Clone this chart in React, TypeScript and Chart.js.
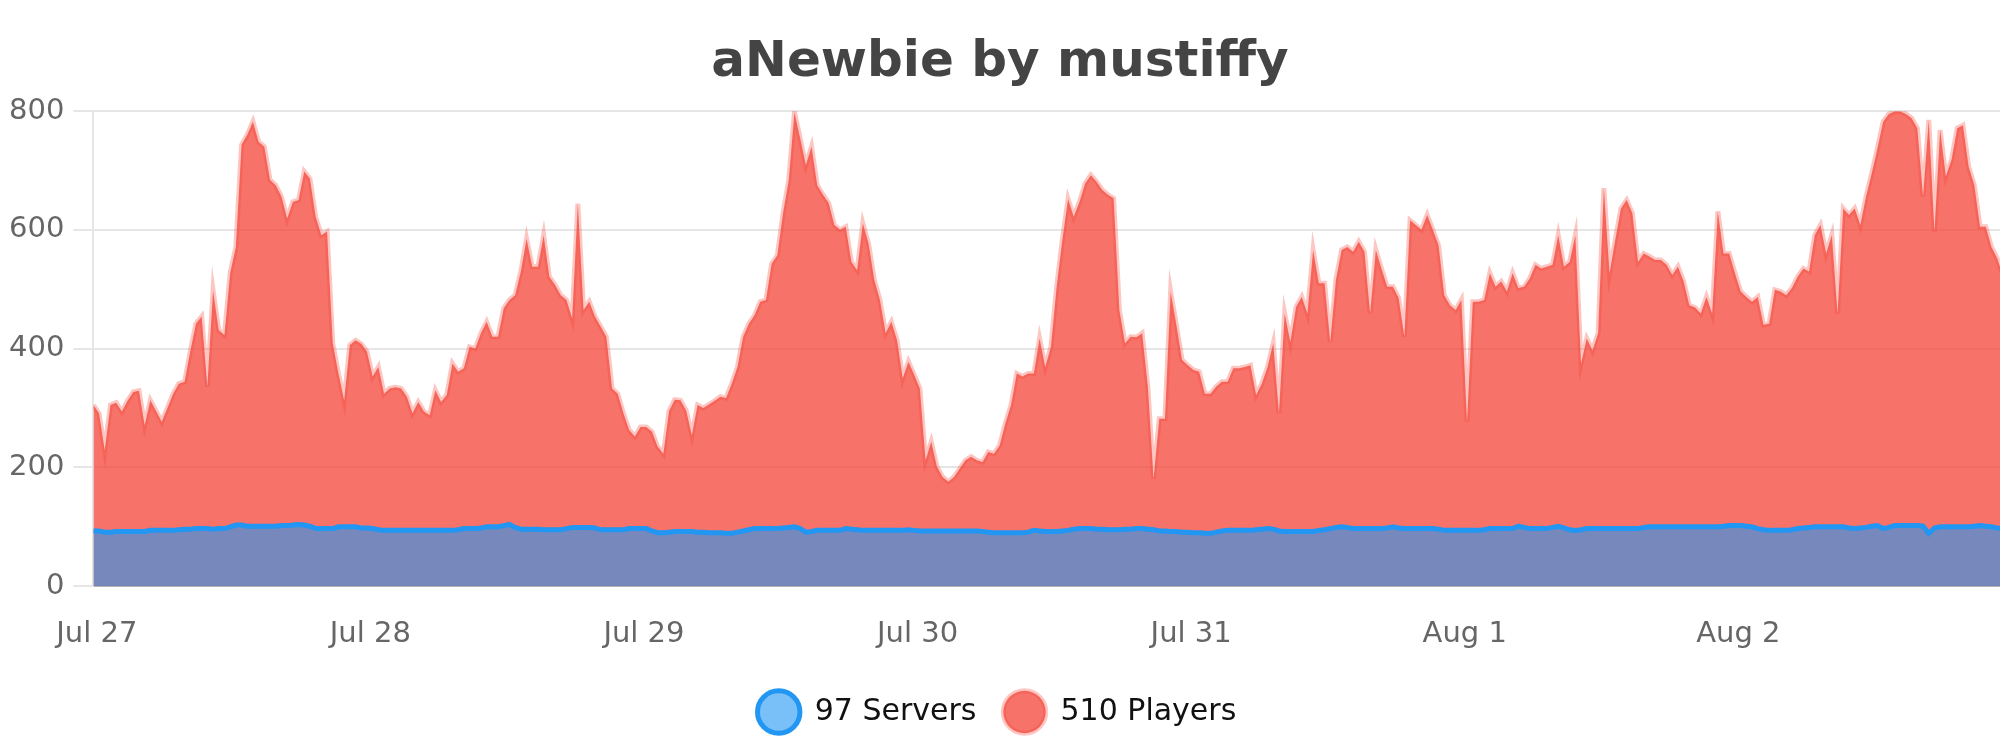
import { useEffect, useRef } from "react";
import { Chart, registerables } from "chart.js";
Chart.register(...registerables);

const chartTitle = "aNewbie by mustiffy";
const dayLabels = ["Jul 27", "Jul 28", "Jul 29", "Jul 30", "Jul 31", "Aug 1", "Aug 2"];
const seriesNames = ["97 Servers", "510 Players"];

// samples every half hour, first one 18 minutes before Jul 27 00:00
const startHour = -0.3;
const stepHours = 0.5;

const players = [
  305, 291, 229, 305, 309, 294, 312, 327, 329, 271, 313, 295,
  277, 300, 324, 341, 344, 395, 442, 454, 336, 498, 431, 423,
  527, 571, 743, 760, 782, 748, 740, 684, 675, 656, 619, 647,
  650, 698, 686, 622, 591, 597, 409, 358, 313, 406, 414, 408,
  395, 353, 369, 324, 333, 335, 333, 319, 291, 310, 294, 288,
  330, 310, 322, 375, 361, 367, 403, 400, 426, 445, 420, 420,
  468, 482, 490, 530, 585, 538, 538, 591, 521, 507, 490, 482,
  451, 644, 465, 479, 454, 437, 420, 333, 324, 291, 263, 252,
  268, 268, 260, 235, 223, 295, 314, 313, 296, 254, 305, 300,
  306, 312, 319, 317, 341, 369, 420, 442, 456, 479, 482, 543,
  557, 628, 684, 798, 754, 709, 740, 675, 659, 645, 608, 600,
  605, 546, 532, 611, 577, 516, 482, 426, 445, 414, 350, 378,
  356, 333, 212, 243, 201, 184, 176, 184, 198, 212, 218, 212,
  209, 226, 223, 237, 274, 305, 358, 353, 358, 358, 417, 369,
  403, 504, 583, 652, 622, 647, 678, 692, 681, 667, 659, 653,
  465, 409, 420, 419, 426, 336, 181, 282, 282, 496, 440, 381,
  372, 364, 361, 324, 324, 336, 344, 344, 367, 367, 369, 372,
  322, 341, 369, 409, 291, 459, 411, 470, 487, 459, 566, 510,
  510, 411, 516, 566, 571, 563, 580, 563, 459, 566, 534, 504,
  504, 485, 420, 616, 608, 600, 625, 600, 574, 490, 473, 465,
  482, 277, 479, 479, 482, 527, 504, 513, 496, 527, 502, 504,
  518, 541, 535, 538, 541, 591, 538, 546, 591, 375, 417, 397,
  426, 670, 527, 583, 636, 650, 628, 546, 560, 555, 549, 549,
  541, 524, 538, 513, 473, 469, 459, 487, 459, 631, 560, 560,
  527, 496, 487, 479, 487, 440, 442, 499, 496, 490, 502, 521,
  535, 530, 591, 608, 560, 591, 459, 636, 625, 636, 608, 656,
  695, 737, 782, 795, 799, 799, 795, 788, 771, 656, 785, 597,
  768, 690, 718, 771, 776, 706, 675, 605, 605, 571, 552, 524,
];

const servers = [
  93, 93, 91, 91, 92, 92, 92, 92, 92, 92, 94, 94,
  94, 94, 94, 95, 96, 96, 97, 97, 97, 96, 97, 97,
  100, 103, 103, 101, 101, 101, 101, 101, 101, 102, 102, 103,
  104, 103, 101, 97, 97, 97, 97, 100, 100, 100, 100, 98,
  98, 97, 95, 94, 94, 94, 94, 94, 94, 94, 94, 94,
  94, 94, 94, 94, 95, 97, 97, 97, 98, 100, 100, 100,
  102, 104, 99, 96, 96, 96, 96, 95, 95, 95, 95, 97,
  99, 99, 99, 99, 98, 95, 95, 95, 95, 95, 97, 97,
  97, 97, 93, 90, 90, 91, 92, 92, 92, 92, 91, 91,
  90, 90, 90, 89, 89, 91, 93, 95, 97, 97, 97, 97,
  97, 98, 99, 100, 97, 91, 92, 94, 94, 94, 94, 94,
  97, 96, 95, 94, 94, 94, 94, 94, 94, 94, 94, 95,
  94, 93, 93, 93, 93, 93, 93, 93, 93, 93, 93, 93,
  92, 91, 90, 90, 90, 90, 90, 90, 91, 94, 93, 92,
  92, 92, 93, 94, 96, 97, 97, 97, 96, 96, 95, 95,
  95, 96, 96, 97, 97, 96, 95, 93, 93, 92, 92, 91,
  91, 90, 90, 89, 89, 91, 93, 94, 94, 94, 94, 94,
  95, 96, 97, 96, 93, 92, 92, 92, 92, 92, 92, 94,
  95, 97, 99, 100, 99, 97, 97, 97, 97, 97, 97, 98,
  100, 98, 97, 97, 97, 97, 97, 97, 96, 94, 94, 94,
  94, 94, 94, 94, 95, 97, 97, 97, 97, 97, 101, 99,
  97, 97, 97, 97, 99, 101, 98, 95, 94, 95, 97, 97,
  97, 97, 97, 97, 97, 97, 97, 97, 99, 100, 100, 100,
  100, 100, 100, 100, 100, 100, 100, 100, 100, 100, 101, 102,
  102, 102, 101, 100, 97, 95, 94, 94, 94, 94, 95, 97,
  98, 99, 100, 100, 100, 100, 100, 100, 98, 97, 98, 99,
  101, 102, 97, 99, 102, 102, 102, 102, 102, 101, 89, 98,
  100, 100, 100, 100, 100, 100, 101, 102, 101, 100, 98, 97,
];

const yTicks = [0, 200, 400, 600, 800];

export default function App() {
  const ref = useRef<HTMLCanvasElement>(null);
  const chart = useRef<Chart | null>(null);

  useEffect(() => {
    document.body.style.margin = "0";
    if (!ref.current) return;
    if (chart.current) chart.current.destroy();

    Chart.defaults.font.family = "'DejaVu Sans', sans-serif";
    const hours = players.map((_, i) => startHour + i * stepHours);
    const baseLabels = Chart.defaults.plugins.legend.labels.generateLabels;

    chart.current = new Chart(ref.current, {
      type: "line",
      data: {
        datasets: [
          {
            label: seriesNames[0],
            data: servers.map((v, i) => ({ x: hours[i], y: v })),
            borderColor: "#2196F3",
            backgroundColor: "rgba(33,150,243,0.6)",
            borderWidth: 5,
            fill: "origin",
            pointRadius: 0,
            tension: 0,
          },
          {
            label: seriesNames[1],
            data: players.map((v, i) => ({ x: hours[i], y: v })),
            borderColor: "rgba(244,67,54,0.3)",
            backgroundColor: "rgba(244,67,54,0.75)",
            borderWidth: 5,
            fill: "origin",
            pointRadius: 0,
            tension: 0,
          },
        ],
      },
      options: {
        responsive: true,
        maintainAspectRatio: false,
        devicePixelRatio: 1,
        animation: false,
        layout: { padding: { left: 0, right: 0, top: 0, bottom: 13 } },
        plugins: {
          title: {
            display: true,
            text: chartTitle,
            color: "#444",
            font: { size: 50, weight: "bold" },
            padding: { top: 33, bottom: 18 },
          },
          legend: {
            position: "bottom",
            labels: {
              usePointStyle: true,
              font: { size: 30 },
              color: "#111",
              padding: 14,
              // a little more room after the circle and between the items
              generateLabels: (c) =>
                baseLabels(c).map((l, i) => ({
                  ...l,
                  text: "\u2009" + l.text + (i === 0 ? "  " : ""),
                })),
            },
          },
          tooltip: { enabled: false },
        },
        scales: {
          x: {
            type: "linear",
            min: startHour,
            max: 166.95,
            grid: { display: false, drawTicks: false },
            border: { display: true, color: "rgba(0,0,0,0.2)", width: 1 },
            afterBuildTicks: (axis) => {
              axis.ticks = dayLabels.map((_, d) => ({ value: d * 24 }));
            },
            ticks: {
              autoSkip: false,
              maxRotation: 0,
              padding: 31,
              color: "#666",
              font: { size: 29 },
              callback: (value) => dayLabels[Math.round(Number(value) / 24)] ?? "",
            },
          },
          y: {
            min: 0,
            max: 800,
            afterBuildTicks: (axis) => {
              axis.ticks = yTicks.map((v) => ({ value: v }));
            },
            grid: { color: "#e6e6e6", lineWidth: 2, tickLength: 20 },
            border: { color: "#e6e6e6", width: 2 },
            ticks: { padding: 9, color: "#666", font: { size: 29 } },
          },
        },
      },
    });

    return () => chart.current?.destroy();
  }, []);

  return (
    <div style={{ width: 2000, height: 750, background: "#fff" }}>
      <canvas ref={ref} />
    </div>
  );
}
